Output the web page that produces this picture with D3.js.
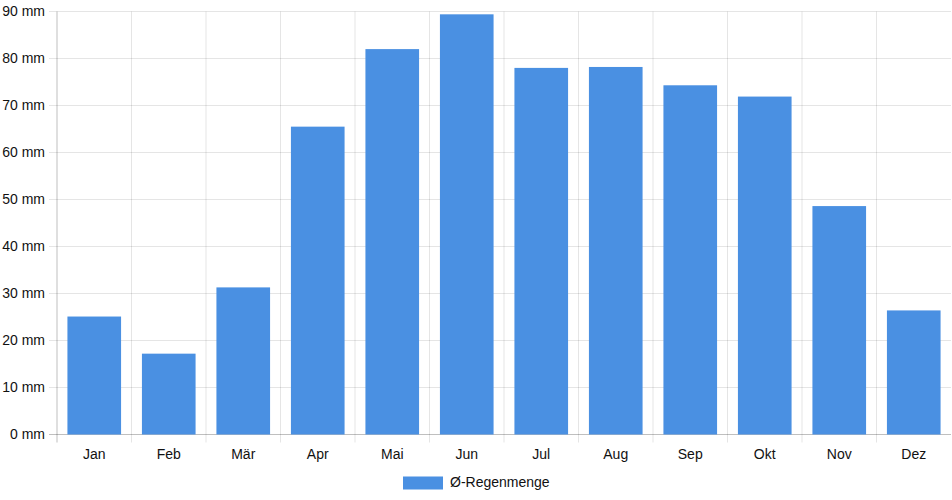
<!DOCTYPE html>
<html><head><meta charset="utf-8">
<script src="https://cdn.jsdelivr.net/npm/d3@7"></script>
<style>body{margin:0;background:#fff;font-family:"Liberation Sans",Arial,sans-serif;}</style>
</head><body><svg id="c" width="952" height="500"></svg>
<script>
const months = ["Jan","Feb","Mär","Apr","Mai","Jun","Jul","Aug","Sep","Okt","Nov","Dez"];
const rain = [25.1,17.2,31.3,65.5,82.0,89.4,78.0,78.2,74.3,71.9,48.6,26.4];
const yTicks = [0,10,20,30,40,50,60,70,80,90];
const seriesName = "Ø-Regenmenge";

const svg = d3.select("#c");
const L = 57, R = 951, T = 11.5, B = 434.5;
const x = d3.scaleBand().domain(months).range([L, R]);
const y = d3.scaleLinear().domain([0, 90]).range([B, T]);
const grid = "rgba(0,0,0,0.1)";

// horizontal grid
svg.append("g").selectAll("line").data(yTicks).join("line")
  .attr("x1", L - 8).attr("x2", R).attr("y1", d => y(d)).attr("y2", d => y(d))
  .attr("stroke", d => d === 0 ? "rgba(0,0,0,0.25)" : grid).attr("stroke-width", 1);
// vertical grid
const vb = months.map(m => x(m));
svg.append("g").selectAll("line").data(vb).join("line")
  .attr("x1", d => d).attr("x2", d => d).attr("y1", T).attr("y2", B + 8)
  .attr("stroke", (d, i) => i === 0 ? "rgba(0,0,0,0.25)" : grid).attr("stroke-width", 1);

// y labels
svg.append("g").selectAll("text").data(yTicks).join("text")
  .attr("x", 45).attr("y", d => y(d)).attr("dy", "0.35em")
  .attr("text-anchor", "end").attr("font-size", 14).attr("fill", "#111")
  .text(d => d + " mm");

// bars
const bw = x.bandwidth() * 0.72;
svg.append("g").selectAll("rect").data(rain).join("rect")
  .attr("x", (d, i) => x(months[i]) + (x.bandwidth() - bw) / 2)
  .attr("width", bw)
  .attr("y", d => y(d)).attr("height", d => B - y(d))
  .attr("fill", "#4a90e2");

// x labels
svg.append("g").selectAll("text").data(months).join("text")
  .attr("x", d => x(d) + x.bandwidth() / 2).attr("y", 459)
  .attr("text-anchor", "middle").attr("font-size", 14).attr("fill", "#111")
  .text(d => d);

// legend
svg.append("rect").attr("x", 403).attr("y", 476.5).attr("width", 40).attr("height", 13).attr("fill", "#4a90e2");
svg.append("text").attr("x", 450).attr("y", 487).attr("font-size", 14).attr("fill", "#111").text(seriesName);
</script></body></html>
